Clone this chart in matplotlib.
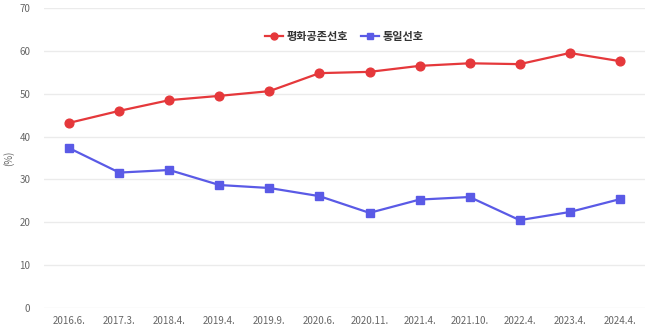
import matplotlib
matplotlib.use("Agg")
import matplotlib.pyplot as plt
from matplotlib.lines import Line2D

plt.rcParams['font.family'] = ['Noto Sans CJK KR', 'DejaVu Sans']

categories = ["2016.6.", "2017.3.", "2018.4.", "2019.4.", "2019.9.", "2020.6.",
              "2020.11.", "2021.4.", "2021.10.", "2022.4.", "2023.4.", "2024.4."]
peace = [43.2, 46.0, 48.5, 49.5, 50.6, 54.8, 55.1, 56.5, 57.1, 56.9, 59.5, 57.6]
unification = [37.3, 31.6, 32.2, 28.7, 28.0, 26.1, 22.2, 25.3, 25.9, 20.5, 22.4, 25.4]
series_names = ["평화공존선호", "통일선호"]
yticks = [0, 10, 20, 30, 40, 50, 60, 70]

red = "#e5383b"
blue = "#5a5ae6"

fig = plt.figure(figsize=(6.5, 3.33), dpi=100)
ax = fig.add_axes([0.068, 0.075, 0.924, 0.901])

x = list(range(len(categories)))
ax.plot(x, peace, color=red, lw=1.6, marker='o', ms=6.3, label=series_names[0], zorder=3)
ax.plot(x, unification, color=blue, lw=1.6, marker='s', ms=6.3, label=series_names[1], zorder=3)

ax.set_xlim(-0.5, len(categories) - 0.5)
ax.set_ylim(0, 70)
ax.set_yticks(yticks)
ax.set_xticks(x)
ax.set_xticklabels(categories)
ax.grid(axis='y', color='#ebebeb', lw=1)
ax.set_axisbelow(True)
for s in ax.spines.values():
    s.set_visible(False)
ax.tick_params(axis='both', length=0, labelsize=7, colors='#666666', pad=6)
ax.tick_params(axis='y', pad=10)
ax.set_ylabel("(%)", fontsize=7, color='#666666')
ax.yaxis.set_label_coords(-0.05, 0.5)

handles = [Line2D([0], [0], color=red, lw=1.6, marker='o', ms=5),
           Line2D([0], [0], color=blue, lw=1.6, marker='s', ms=5)]
leg = ax.legend(handles, series_names, loc='upper center', bbox_to_anchor=(0.5, 0.96),
                ncol=2, frameon=False, fontsize=8, handlelength=1.6, handletextpad=0.3,
                columnspacing=1.2)
for t in leg.get_texts():
    t.set_color('#333333')
    t.set_fontweight('bold')

fig.savefig("out.png", dpi=100)
